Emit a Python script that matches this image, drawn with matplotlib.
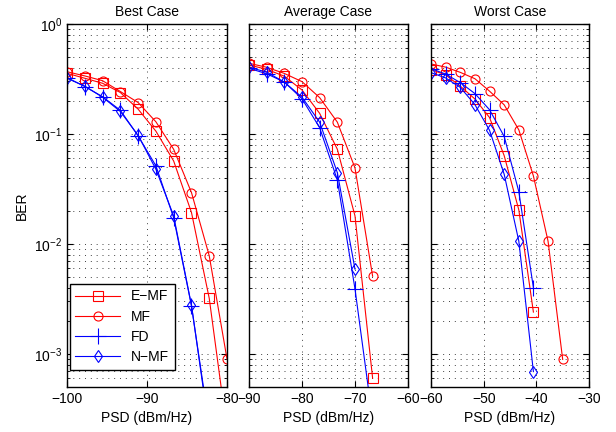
import matplotlib
matplotlib.use('Agg')
import matplotlib.pyplot as plt
from matplotlib.ticker import LogLocator, NullFormatter

plt.rcParams['font.family'] = ['Liberation Sans', 'DejaVu Sans']
plt.rcParams['mathtext.fontset'] = 'custom'
plt.rcParams['mathtext.rm'] = 'Liberation Sans'
plt.rcParams['font.size'] = 10

# best case
best_x = [-100, -97.78, -95.56, -93.33, -91.11, -88.89, -86.67, -84.44, -82.22, -80]
best_emf = [0.356, 0.321, 0.289, 0.238, 0.168, 0.106, 0.0568, 0.0193, 0.0032, 0.0002]
best_mf = [0.368, 0.337, 0.305, 0.243, 0.193, 0.129, 0.0726, 0.0293, 0.0078, 0.0009]
best_fd = [0.325, 0.270, 0.218, 0.164, 0.096, 0.0513, 0.0173, 0.00273, 0.00022, 0.00001]
best_nmf = [0.321, 0.272, 0.216, 0.160, 0.097, 0.0478, 0.018, 0.00277, 0.0002, 0.00001]

# average case
avg_x = [-90, -86.67, -83.33, -80, -76.67, -73.33, -70, -66.67]
avg_emf = [0.424, 0.387, 0.335, 0.251, 0.154, 0.0726, 0.018, 0.0006]
avg_mf = [0.439, 0.404, 0.355, 0.299, 0.214, 0.128, 0.0491, 0.00508]
avg_fd = [0.395, 0.353, 0.296, 0.209, 0.114, 0.0382, 0.0039, 0.00025]
avg_nmf = [0.404, 0.365, 0.296, 0.216, 0.128, 0.0445, 0.0059]

# worst case
worst_x = [-60, -57.22, -54.44, -51.67, -48.89, -46.11, -43.33, -40.56, -37.78, -35]
worst_emf = [0.385, 0.344, 0.272, 0.208, 0.141, 0.0635, 0.0204, 0.0024]
worst_mf = [0.433, 0.405, 0.363, 0.318, 0.245, 0.184, 0.109, 0.0415, 0.0106, 0.00089]
worst_fd = [0.393, 0.350, 0.293, 0.233, 0.166, 0.095, 0.0299, 0.0040]
worst_nmf = [0.361, 0.323, 0.265, 0.185, 0.108, 0.043, 0.0106, 0.00069]

titles = ['Best Case', 'Average Case', 'Worst Case']
xlims = [(-100, -80), (-90, -60), (-60, -30)]
xticks = [[-100, -90, -80], [-90, -80, -70, -60], [-60, -50, -40, -30]]
labels = ['E\u2212MF', 'MF', 'FD', 'N\u2212MF']

panels = [
    (best_x, best_emf, best_mf, best_fd, best_nmf),
    (avg_x, avg_emf, avg_mf, avg_fd, avg_nmf),
    (worst_x, worst_emf, worst_mf, worst_fd, worst_nmf),
]

fig = plt.figure(figsize=(6.16, 4.32), dpi=100)
lefts = [0.1088, 0.4042, 0.6997]
widths = [0.2597, 0.2581, 0.2565]
grid_ls = (0, (1, 5))

for i, (x, emf, mf, fd, nmf) in enumerate(panels):
    ax = fig.add_axes([lefts[i], 0.1042, widths[i], 0.8403])
    ms = 6.5
    ax.semilogy(x[:len(emf)], emf, 'r-s', mfc='none', ms=ms, lw=0.8, mew=0.8, label=labels[0])
    ax.semilogy(x[:len(mf)], mf, 'r-o', mfc='none', ms=ms, lw=0.8, mew=0.8, label=labels[1])
    ax.semilogy(x[:len(fd)], fd, 'b-+', ms=ms + 5, lw=0.8, mew=0.8, label=labels[2])
    ax.semilogy(x[:len(nmf)], nmf, 'b-d', mfc='none', ms=ms, lw=0.8, mew=0.8, label=labels[3])
    ax.set_xlim(xlims[i])
    ax.set_ylim(5e-4, 1)
    ax.set_xticks(xticks[i])
    ax.yaxis.set_major_locator(LogLocator(base=10, numticks=10))
    ax.yaxis.set_minor_locator(LogLocator(base=10, subs=range(2, 10), numticks=10))
    ax.yaxis.set_minor_formatter(NullFormatter())
    ax.tick_params(which='both', direction='in', top=True, right=True)
    ax.tick_params(which='major', length=4)
    ax.tick_params(which='minor', length=2)
    ax.grid(True, which='major', axis='x', ls=grid_ls, color='0.25', lw=0.7)
    ax.grid(True, which='both', axis='y', ls=grid_ls, color='0.25', lw=0.7)
    for s in ax.spines.values():
        s.set_linewidth(1.0)
    ax.set_title(titles[i], fontsize=10)
    ax.set_xlabel('PSD (dBm/Hz)')
    if i == 0:
        ax.set_ylabel('BER')
        leg = ax.legend(loc='lower left', fancybox=False, edgecolor='k',
                        framealpha=1, handlelength=3.2, borderpad=0.4,
                        labelspacing=0.45, borderaxespad=0.2,
                        bbox_to_anchor=(0.0, 0.04))
        leg.get_frame().set_linewidth(1.0)
    else:
        ax.set_yticklabels([])

fig.savefig('out.png', dpi=100)
